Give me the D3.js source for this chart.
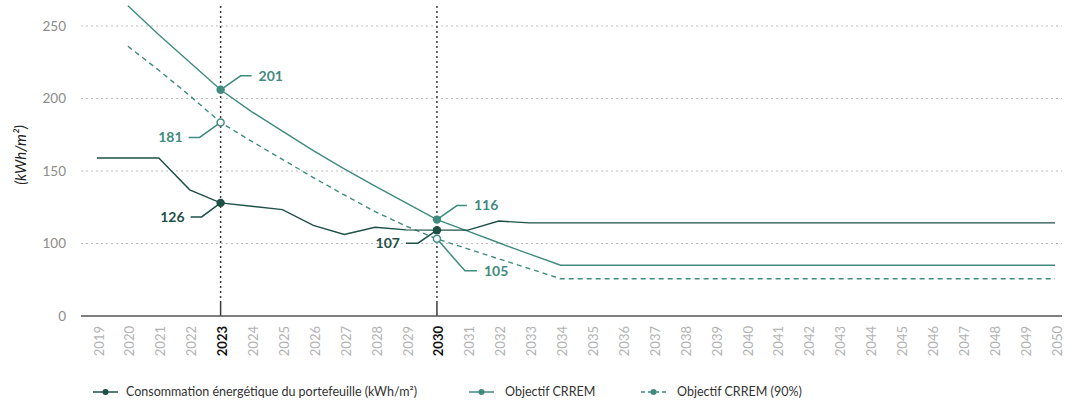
<!DOCTYPE html>
<html>
<head>
<meta charset="utf-8">
<script src="https://cdn.jsdelivr.net/npm/d3@7"></script>
<style>
  body { margin: 0; background: #fff; }
  svg { display: block; font-family: Lato, 'Open Sans', sans-serif; }
</style>
</head>
<body>
<div id="chart"></div>
<script>
const WIDTH = 1073;
const HEIGHT = 401;

// data
const years = [2019, 2020, 2021, 2022, 2023, 2024, 2025, 2026, 2027, 2028, 2029, 2030,
  2031, 2032, 2033, 2034, 2035, 2036, 2037, 2038, 2039, 2040, 2041, 2042, 2043, 2044,
  2045, 2046, 2047, 2048, 2049, 2050];
const consommation = [159, 159, 159, 137, 128, 125.7, 123.4, 112.5, 106.2, 111.2, 109.4, 109.2,
  109.2, 115.5, 114.2, 114.2, 114.2, 114.2, 114.2, 114.2, 114.2, 114.2, 114.2, 114.2, 114.2, 114.2,
  114.2, 114.2, 114.2, 114.2, 114.2, 114.2];
const crrem = [null, 264, 244, 225, 206, 191, 177.5, 164, 151.5, 139.5, 128, 116.5,
  108.5, 100.5, 92.7, 85, 85, 85, 85, 85, 85, 85, 85, 85, 85, 85,
  85, 85, 85, 85, 85, 85];
const crrem90 = [null, 236, 219.5, 202, 183.5, 170.5, 158, 145.5, 133.5, 122, 112, 103.2,
  96.3, 89.4, 82.6, 75.7, 75.7, 75.7, 75.7, 75.7, 75.7, 75.7, 75.7, 75.7, 75.7, 75.7,
  75.7, 75.7, 75.7, 75.7, 75.7, 75.7];
const yTicks = [50, 100, 150, 200, 250];
const yTickLabels = ['0', '100', '150', '200', '250'];
const highlightYears = [2023, 2030];
const calloutValues = [201, 181, 126, 107, 116, 105];
const legendLabels = ['Consommation énergétique du portefeuille (kWh/m²)', 'Objectif CRREM', 'Objectif CRREM (90%)'];

const DARK = '#1f5048';
const TEAL = '#3f8b7e';

const svg = d3.select('#chart').append('svg')
  .attr('width', WIDTH)
  .attr('height', HEIGHT);

const x = d3.scaleLinear().domain([2019, 2050]).range([97, 1055]);
const y = d3.scaleLinear().domain([50, 250]).range([316, 26]);
const X0 = 81, X1 = 1062;

// gridlines
svg.append('g')
  .selectAll('line')
  .data(yTicks.slice(1))
  .join('line')
  .attr('x1', X0).attr('x2', X1)
  .attr('y1', d => y(d)).attr('y2', d => y(d))
  .attr('stroke', '#bdbdbd')
  .attr('stroke-width', 1)
  .attr('stroke-dasharray', '2,3');

// y tick labels
svg.append('g')
  .selectAll('text')
  .data(yTicks)
  .join('text')
  .attr('x', 66)
  .attr('y', d => y(d))
  .attr('dy', '0.35em')
  .attr('text-anchor', 'end')
  .attr('fill', '#8c8c8c')
  .style('font-size', '13.5px')
  .text((d, i) => yTickLabels[i]);

// y title
svg.append('text')
  .attr('transform', 'translate(26,155) rotate(-90)')
  .attr('text-anchor', 'middle')
  .attr('fill', '#222')
  .style('font-size', '15px')
  .style('font-style', 'italic')
  .text('(kWh/m²)');

// highlight verticals
const vg = svg.append('g');
vg.selectAll('line.dot')
  .data(highlightYears)
  .join('line')
  .attr('class', 'dot')
  .attr('x1', d => x(d)).attr('x2', d => x(d))
  .attr('y1', 6).attr('y2', 302)
  .attr('stroke', '#3a3a3a')
  .attr('stroke-width', 1.5)
  .attr('stroke-dasharray', '2,3');
vg.selectAll('line.tick')
  .data(highlightYears)
  .join('line')
  .attr('class', 'tick')
  .attr('x1', d => x(d)).attr('x2', d => x(d))
  .attr('y1', 302).attr('y2', y(50))
  .attr('stroke', '#3a3a3a')
  .attr('stroke-width', 1.5);

// baseline
svg.append('line')
  .attr('x1', X0).attr('x2', X1)
  .attr('y1', y(50)).attr('y2', y(50))
  .attr('stroke', '#555')
  .attr('stroke-width', 1.5);

// x labels
svg.append('g')
  .selectAll('text')
  .data(years)
  .join('text')
  .attr('transform', d => `translate(${x(d) + 2},326) rotate(-90)`)
  .attr('dy', '0.35em')
  .attr('text-anchor', 'end')
  .attr('fill', d => highlightYears.includes(d) ? '#111' : '#b3b3b3')
  .style('font-weight', d => highlightYears.includes(d) ? 700 : 400)
  .style('font-size', '13px')
  .text(d => d);

// lines
const line = d3.line()
  .defined(d => d[1] != null)
  .x(d => x(d[0]))
  .y(d => y(d[1]));

const zip = arr => years.map((yr, i) => [yr, arr[i]]);

svg.append('path')
  .datum(zip(crrem90))
  .attr('fill', 'none')
  .attr('stroke', TEAL)
  .attr('stroke-width', 1.4)
  .attr('stroke-dasharray', '5,4')
  .attr('d', line);

svg.append('path')
  .datum(zip(crrem))
  .attr('fill', 'none')
  .attr('stroke', TEAL)
  .attr('stroke-width', 1.4)
  .attr('d', line);

svg.append('path')
  .datum(zip(consommation))
  .attr('fill', 'none')
  .attr('stroke', DARK)
  .attr('stroke-width', 1.4)
  .attr('d', line);

// callouts
const seriesMap = { conso: consommation, crrem: crrem, crrem90: crrem90 };
const callouts = [
  { s: 'crrem', year: 2023, dx: 20, dy: -14, h: 11, color: TEAL, hollow: false },
  { s: 'crrem90', year: 2023, dx: -21, dy: 15, h: -11, color: TEAL, hollow: true },
  { s: 'conso', year: 2023, dx: -19, dy: 14, h: -11, color: DARK, hollow: false },
  { s: 'conso', year: 2030, dx: -19, dy: 13, h: -12, color: DARK, hollow: false },
  { s: 'crrem', year: 2030, dx: 20, dy: -14, h: 10, color: TEAL, hollow: false },
  { s: 'crrem90', year: 2030, dx: 28, dy: 32, h: 12, color: TEAL, hollow: true }
];
callouts.forEach((c, i) => {
  c.cx = x(c.year);
  c.cy = y(seriesMap[c.s][years.indexOf(c.year)]);
  c.label = calloutValues[i];
});

const cg = svg.append('g');
cg.selectAll('path')
  .data(callouts)
  .join('path')
  .attr('fill', 'none')
  .attr('stroke', d => d.color)
  .attr('stroke-width', 1.5)
  .attr('d', d => `M${d.cx},${d.cy}L${d.cx + d.dx},${d.cy + d.dy}h${d.h}`);

cg.selectAll('circle')
  .data(callouts)
  .join('circle')
  .attr('cx', d => d.cx)
  .attr('cy', d => d.cy)
  .attr('r', d => d.hollow ? 3.5 : 4.2)
  .attr('fill', d => d.hollow ? '#fff' : d.color)
  .attr('stroke', d => d.color)
  .attr('stroke-width', d => d.hollow ? 1.5 : 0);

cg.selectAll('text')
  .data(callouts)
  .join('text')
  .attr('x', d => d.cx + d.dx + d.h + (d.h > 0 ? 7 : -6))
  .attr('y', d => d.cy + d.dy)
  .attr('dy', '0.35em')
  .attr('text-anchor', d => d.h > 0 ? 'start' : 'end')
  .attr('fill', d => d.color)
  .style('font-size', '14px')
  .style('font-weight', 700)
  .text(d => d.label);

// legend
const legendItems = [
  { x0: 93, tx: 126, color: DARK, dash: null },
  { x0: 469, tx: 505, color: TEAL, dash: null },
  { x0: 641, tx: 677, color: TEAL, dash: '4,3' }
];
const LY = 392;
const lg = svg.append('g')
  .selectAll('g')
  .data(legendItems)
  .join('g');
lg.append('line')
  .attr('x1', d => d.x0).attr('x2', d => d.x0 + 25)
  .attr('y1', LY).attr('y2', LY)
  .attr('stroke', d => d.color)
  .attr('stroke-width', 1.5)
  .attr('stroke-dasharray', d => d.dash);
lg.append('circle')
  .attr('cx', d => d.x0 + 12.5)
  .attr('cy', LY)
  .attr('r', 3)
  .attr('fill', d => d.color);
lg.append('text')
  .attr('x', d => d.tx)
  .attr('y', LY)
  .attr('dy', '0.35em')
  .attr('fill', '#333')
  .style('font-size', '12.5px')
  .text((d, i) => legendLabels[i]);
</script>
</body>
</html>
